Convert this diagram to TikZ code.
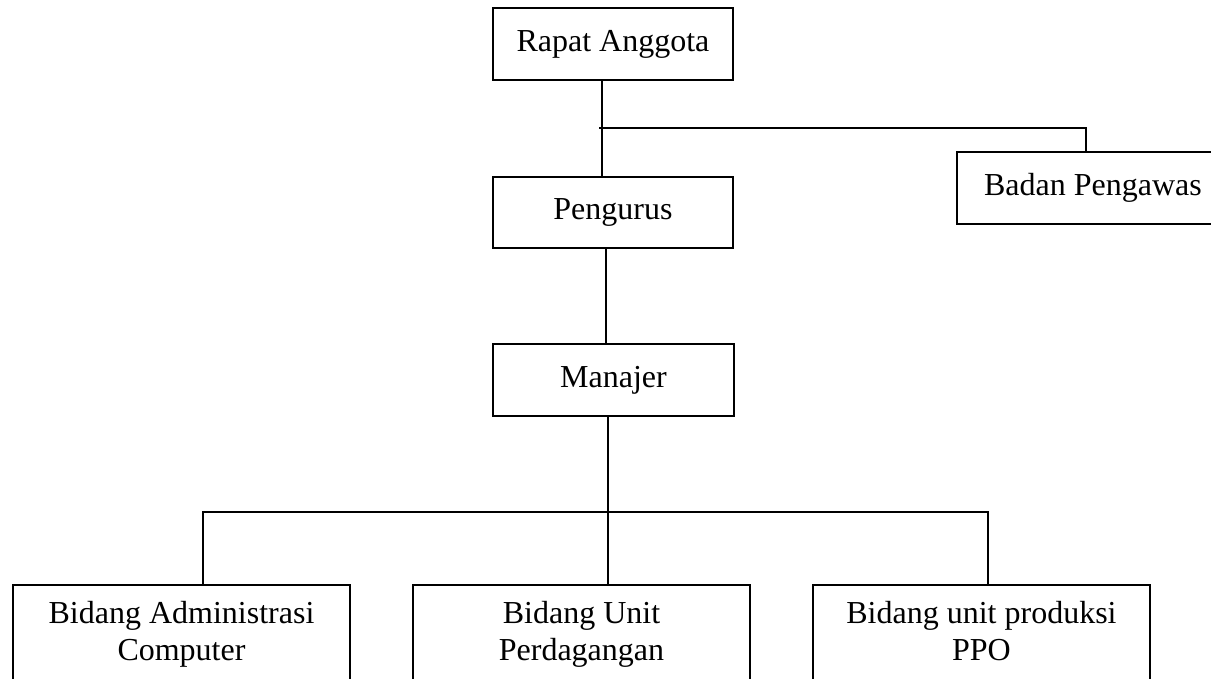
\documentclass[tikz,border=0pt]{standalone}
\usepackage{fontspec}
\setmainfont{Liberation Serif}
\begin{document}
\begin{tikzpicture}[x=1pt,y=-1pt,
  box/.style={draw,line width=1.6pt,rectangle,inner sep=0pt,font=\fontsize{32}{37}\selectfont},
  bbox/.style={box,anchor=north,minimum width=337pt,minimum height=140pt},
  btext/.style={anchor=north,inner sep=0pt,yshift=-17pt,align=center,font=\fontsize{32}{37}\selectfont},
  conn/.style={line width=1.6pt}]
\useasboundingbox (0,0) rectangle (1211,679);
\clip (0,0) rectangle (1211,679);
\node[box,minimum width=240pt,minimum height=72pt] (ra) at (613,44) {Rapat Anggota};
\node[box,minimum width=240pt,minimum height=71pt] (pg) at (613,212.5) {Pengurus};
\node[box,minimum width=241pt,minimum height=72pt] (mj) at (613.5,380) {Manajer};
\node[box,minimum width=272pt,minimum height=72pt] (bp) at (1093,188) {Badan Pengawas};
\node[bbox,label={[btext]north:{Bidang Administrasi\\Computer}}] (bA) at (181.5,584) {};
\node[bbox,label={[btext]north:{Bidang Unit\\Perdagangan}}] (bB) at (581.5,584) {};
\node[bbox,label={[btext]north:{Bidang unit produksi\\PPO}}] (bC) at (981.5,584) {};
\coordinate (j1) at (599,128);
\coordinate (hL) at (203,512);
\coordinate (hR) at (988,512);
\draw[conn] (ra.south -| 602,0) -- (pg.north -| 602,0);
\draw[conn] (j1) -| ([xshift=-7pt]bp.north);
\draw[conn] (pg.south -| 606,0) -- (mj.north -| 606,0);
\draw[conn] (mj.south -| 608,0) -- (bB.north -| 608,0);
\draw[conn] (bA.north -| hL) -- (hL) -- (hR) -- (bC.north -| hR);
\end{tikzpicture}
\end{document}
